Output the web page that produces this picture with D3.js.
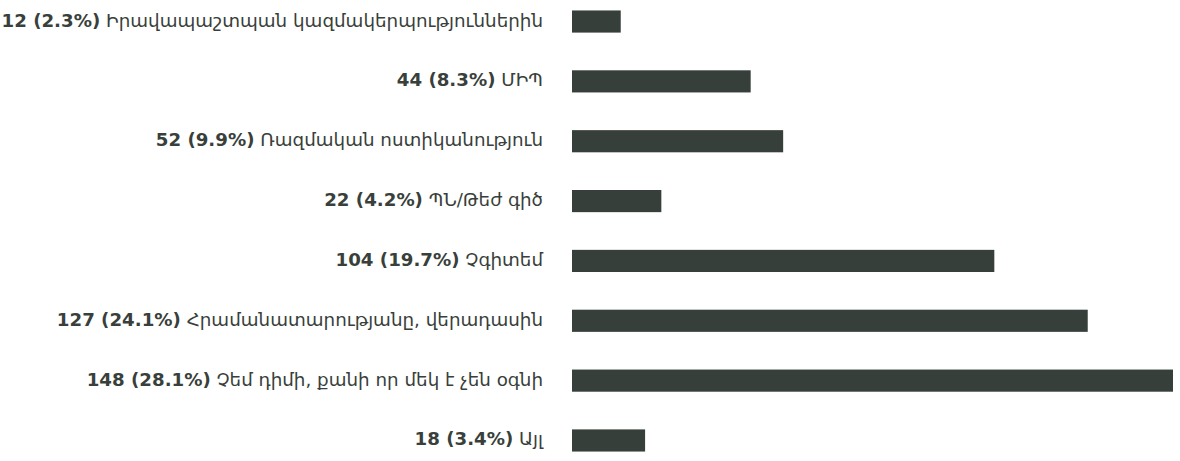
<!DOCTYPE html>
<html><head><meta charset="utf-8">
<script src="https://cdn.jsdelivr.net/npm/d3@7"></script>
<style>
html,body{margin:0;padding:0;background:#fff;}
svg{display:block;}
text{font-family:"DejaVu Sans",sans-serif;fill:#393f3b;}
</style></head>
<body>
<svg id="chart" width="1180" height="461"></svg>
<script>
const categories = ["Իրավապաշտպան կազմակերպություններին","ՄԻՊ","Ռազմական ոստիկանություն","ՊՆ/Թեժ գիծ","Չգիտեմ","Հրամանատարությանը, վերադասին","Չեմ դիմի, քանի որ մեկ է չեն օգնի","Այլ"];
const values = [12,44,52,22,104,127,148,18];
const percents = ["2.3%","8.3%","9.9%","4.2%","19.7%","24.1%","28.1%","3.4%"];

const svg = d3.select("#chart");
const x = d3.scaleLinear().domain([0,148]).range([572,1173]);
const y = d3.scaleBand().domain(categories).range([-8.4,470.4]).paddingInner(0.63).paddingOuter(0.315);

svg.selectAll("rect.bar").data(categories).join("rect")
  .attr("class","bar")
  .attr("x",x(0))
  .attr("y",d=>y(d))
  .attr("width",(d,i)=>x(values[i])-x(0))
  .attr("height",y.bandwidth())
  .attr("fill","#363f3a");

const lab = svg.selectAll("text.lab").data(categories).join("text")
  .attr("class","lab")
  .attr("x",543)
  .attr("y",d=>y(d)+y.bandwidth()/2+5)
  .attr("text-anchor","end");
lab.append("tspan").style("font-weight","bold").style("font-size","18.2px").text((d,i)=>values[i]+" ("+percents[i]+")");
lab.append("tspan").style("font-size","18.3px").text(d=>" "+d);
</script>
</body></html>
